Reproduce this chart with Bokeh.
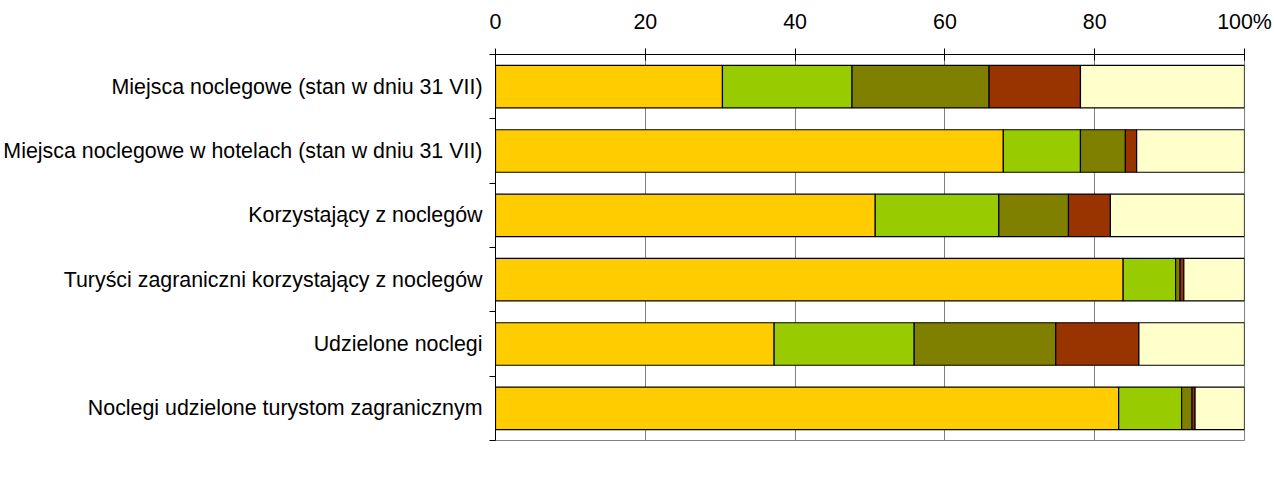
from bokeh.plotting import figure
from bokeh.models import ColumnDataSource, FixedTicker, Legend, LegendItem
from bokeh.embed import file_html
from bokeh.resources import INLINE

categories = [
    "Miejsca noclegowe (stan w dniu 31 VII)",
    "Miejsca noclegowe w hotelach (stan w dniu 31 VII)",
    "Korzystający z noclegów",
    "Turyści zagraniczni korzystający z noclegów",
    "Udzielone noclegi",
    "Noclegi udzielone turystom zagranicznym",
]
krakow = [30.3, 67.8, 50.7, 83.8, 37.2, 83.2]
tatrzanski = [17.3, 10.3, 16.5, 7.0, 18.7, 8.4]
nowosadecki = [18.3, 6.0, 9.3, 0.6, 18.9, 1.4]
nowotarski = [12.2, 1.5, 5.6, 0.5, 11.1, 0.4]
pozostale = [21.9, 14.4, 17.9, 8.1, 14.1, 6.6]

legend_title = "powiat:"
series_names = ["m. Kraków", "tatrzański", "nowosądecki", "nowotarski", "pozostałe powiaty"]
series_keys = ["krakow", "tatrzanski", "nowosadecki", "nowotarski", "pozostale"]
colors = ["#FFCC00", "#99CC00", "#808000", "#993300", "#FFFFCC"]
x_ticks = [0, 20, 40, 60, 80, 100]
x_tick_labels = ["0", "20", "40", "60", "80", "100%"]

n = len(categories)
ypos = [n - i - 0.5 for i in range(n)]

source = ColumnDataSource(dict(
    y=ypos, krakow=krakow, tatrzanski=tatrzanski, nowosadecki=nowosadecki,
    nowotarski=nowotarski, pozostale=pozostale,
))

FONT = "Liberation Sans"
FS = "21.4px"

p = figure(frame_width=749, frame_height=386, x_range=(0, 100), y_range=(0, n),
           x_axis_location="above", output_backend="svg", toolbar_location=None,
           min_border_left=494, min_border_right=29, min_border_top=54, min_border_bottom=0)

renderers = p.hbar_stack(series_keys, y="y", height=0.66, color=colors,
                         line_color="black", line_width=1.2, source=source)

# invisible renderer that carries the legend's "powiat:" caption
caption_r = p.hbar(y="y", right="right", height=0.5, source=ColumnDataSource(dict(y=[], right=[])),
                   fill_alpha=0, line_alpha=0)

# x axis (top)
xa = p.xaxis[0]
xa.ticker = FixedTicker(ticks=x_ticks)
xa.major_label_overrides = {t: l for t, l in zip(x_ticks, x_tick_labels)}
xa.major_tick_in = 6
xa.major_tick_out = 6
xa.minor_tick_line_color = None
xa.major_label_standoff = 15
xa.axis_line_color = "black"
xa.major_tick_line_color = "black"
xa.major_label_text_font = FONT
xa.major_label_text_font_size = FS
xa.major_label_text_color = "black"

# y axis (categories, ticks at boundaries)
ya = p.yaxis[0]
ya.ticker = FixedTicker(ticks=ypos, minor_ticks=list(range(n + 1)))
ya.major_label_overrides = {y: c for y, c in zip(ypos, categories)}
ya.major_tick_in = 0
ya.major_tick_out = 0
ya.minor_tick_in = 0
ya.minor_tick_out = 6
ya.minor_tick_line_color = "black"
ya.major_label_standoff = 7
ya.axis_line_color = "black"
ya.major_label_text_font = FONT
ya.major_label_text_font_size = FS
ya.major_label_text_color = "black"

p.xgrid.ticker = FixedTicker(ticks=x_ticks[1:-1])
p.xgrid.grid_line_color = "#808080"
p.xgrid.grid_line_width = 1
p.ygrid.grid_line_color = None
p.outline_line_color = "#808080"
p.outline_line_width = 1

items = [LegendItem(label=legend_title + "\u00a0" * 4, renderers=[caption_r])]
items += [LegendItem(label=nm, renderers=[r]) for nm, r in zip(series_names, renderers)]

legend = Legend(
    items=items, orientation="horizontal", location=(-98, 0),
    label_text_font=FONT, label_text_font_size=FS, label_text_color="black",
    label_height=24, glyph_width=12, glyph_height=12, label_standoff=6, spacing=15,
    padding=0, margin=10, border_line_color=None, background_fill_alpha=0,
)
p.add_layout(legend, "below")

open("out.html", "w").write(file_html(p, INLINE))
